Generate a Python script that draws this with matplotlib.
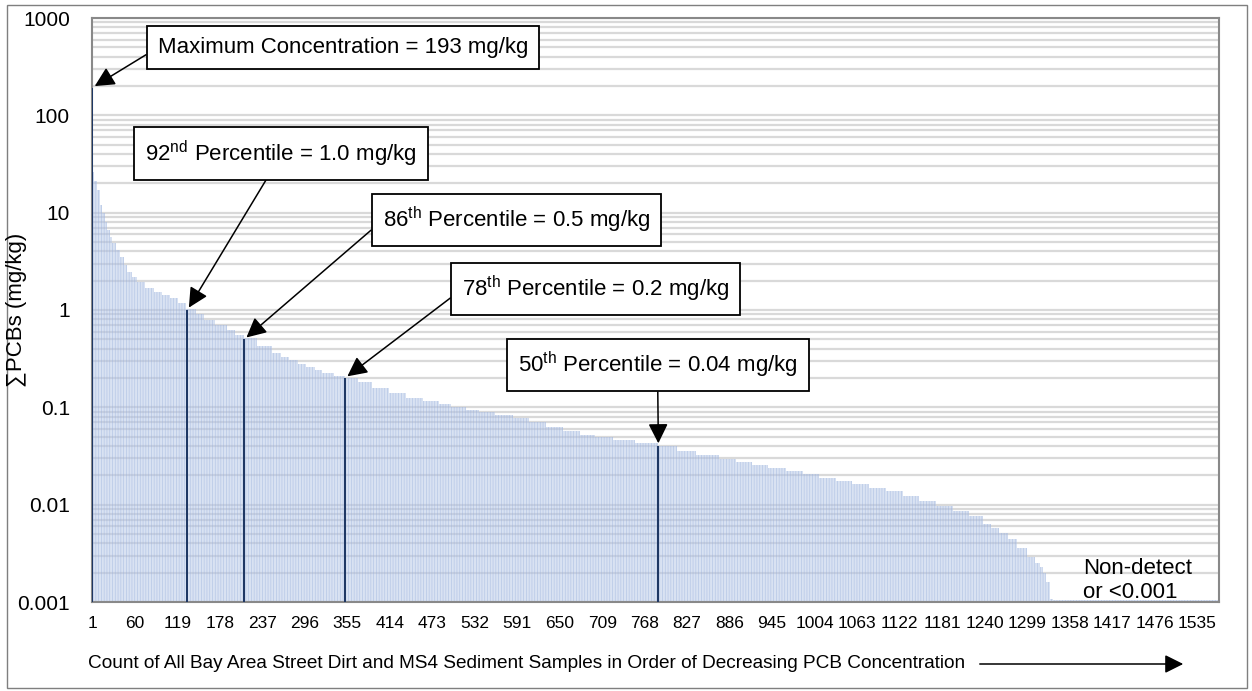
import matplotlib
matplotlib.use("Agg")
import matplotlib.pyplot as plt
from matplotlib.patches import Rectangle, FancyArrowPatch
from matplotlib.ticker import LogLocator, NullFormatter

plt.rcParams['font.family'] = ['Liberation Sans', 'DejaVu Sans']
plt.rcParams['mathtext.fontset'] = 'custom'
plt.rcParams['mathtext.rm'] = 'Liberation Sans'
plt.rcParams['hatch.linewidth'] = 0.5

# sorted concentrations: rank where a level starts, and its value (mg/kg)
rank_start = [1, 2, 4, 8, 12, 15, 19, 22, 26, 29, 35, 40, 45, 50, 56, 63, 75, 87, 98, 109,
              120, 132, 145, 157, 172, 188, 200, 212, 230, 251, 263, 275, 287, 298, 310, 321,
              337, 353, 370, 390, 413, 437, 460, 483, 500, 520, 539, 560, 585, 608, 632, 655,
              678, 700, 724, 755, 787, 813, 840, 872, 895, 918, 940, 965, 988, 1011, 1034, 1057,
              1080, 1104, 1127, 1150, 1173, 1196, 1219, 1238, 1250, 1261, 1273, 1285, 1299, 1310,
              1317, 1322, 1326, 1331, 1335]
conc = [193, 26, 21, 17, 12, 9.9, 8, 6.6, 5.6, 4.9, 4.1, 3.5, 2.9, 2.46, 2.2, 1.93, 1.7, 1.53,
        1.42, 1.32, 1.18, 1.02, 0.9, 0.79, 0.7, 0.62, 0.56, 0.51, 0.43, 0.36, 0.33, 0.305, 0.28,
        0.26, 0.24, 0.225, 0.21, 0.2, 0.18, 0.158, 0.14, 0.126, 0.115, 0.107, 0.1, 0.0946, 0.089,
        0.083, 0.077, 0.07, 0.063, 0.057, 0.052, 0.049, 0.0457, 0.043, 0.0405, 0.036, 0.032,
        0.0295, 0.0275, 0.0257, 0.024, 0.022, 0.0205, 0.019, 0.0176, 0.0162, 0.015, 0.0137,
        0.0122, 0.0108, 0.0096, 0.0086, 0.0076, 0.0064, 0.0058, 0.0051, 0.0044, 0.0036, 0.0029,
        0.0025, 0.0023, 0.002, 0.0016, 0.00107, 0.00105]
n_samples = 1565

# highlighted samples
hl_rank = [1, 133, 212, 352, 787]
hl_conc = [193, 1.0, 0.5, 0.2, 0.04]
hl_text = ["Maximum Concentration = 193 mg/kg",
           r"92$^{\mathrm{nd}}$ Percentile = 1.0 mg/kg",
           r"86$^{\mathrm{th}}$ Percentile = 0.5 mg/kg",
           r"78$^{\mathrm{th}}$ Percentile = 0.2 mg/kg",
           r"50$^{\mathrm{th}}$ Percentile = 0.04 mg/kg"]

x_ticks = list(range(1, 1536, 59))
y_ticks = [0.001, 0.01, 0.1, 1, 10, 100, 1000]
y_labels = ["0.001", "0.01", "0.1", "1", "10", "100", "1000"]

W, H = 1252, 691
fig = plt.figure(figsize=(W / 100, H / 100), dpi=100)
ax = fig.add_axes([92 / W, 89 / H, 1127 / W, 584 / H])

edges = [r - 0.5 for r in rank_start] + [n_samples + 0.5]
ax.stairs(conc, edges, baseline=1e-4, fill=True, facecolor='#b5c7e7',
          edgecolor='#94acdb', linewidth=0, hatch='||||||', alpha=0.5, zorder=2)
ax.bar(hl_rank, hl_conc, width=3, bottom=1e-4, color='#1f3864', zorder=3)

ax.set_yscale('log')
ax.set_ylim(0.001, 1000)
ax.set_xlim(0.5, n_samples + 0.5)
ax.set_yticks(y_ticks)
ax.set_yticklabels(y_labels, fontsize=15)
ax.yaxis.set_minor_locator(LogLocator(base=10, subs=range(2, 10), numticks=20))
ax.yaxis.set_minor_formatter(NullFormatter())
ax.set_xticks(x_ticks)
ax.set_xticklabels([str(t) for t in x_ticks], fontsize=12.5)
ax.tick_params(axis='both', which='both', length=0)
ax.tick_params(axis='y', pad=16)
ax.tick_params(axis='x', pad=10)
ax.grid(which='both', axis='y', color='#d9d9d9', lw=1.6, zorder=1)
ax.set_axisbelow(True)
for s in ax.spines.values():
    s.set_color('#898989')
    s.set_linewidth(1.5)

# annotation boxes: text centre, arrow start on box
box_xy = [(349, 497), (263, 40.5), (590, 8.41), (700, 1.64), (786, 0.272)]
arrow_from = [(0, 0.5), (0.47, 0), (0, 0.5), (0, 0.5), (0.5, 0)]
for i in range(len(hl_rank)):
    ax.annotate(hl_text[i], xy=(hl_rank[i], hl_conc[i]), xytext=box_xy[i],
                fontsize=16, ha='center', va='center', zorder=5,
                bbox=dict(boxstyle='square,pad=0.5', fc='white', ec='black', lw=1.3),
                arrowprops=dict(arrowstyle='-|>', mutation_scale=30, color='black', lw=1.1,
                                relpos=arrow_from[i], shrinkA=0, shrinkB=2))

ax.text(0.879, 0.007, "Non-detect\nor <0.001", transform=ax.transAxes, fontsize=16,
        ha='left', va='baseline', linespacing=1.2, zorder=5)

fig.text(17 / W, 1 - 310 / H, "\u2211PCBs (mg/kg)", rotation=90, ha='center', va='center',
         fontsize=16)
fig.text(88 / W, 1 - 664 / H, "Count of All Bay Area Street Dirt and MS4 Sediment Samples "
         "in Order of Decreasing PCB Concentration", ha='left', va='center', fontsize=13.7)
fig.add_artist(FancyArrowPatch((977 / W, 27 / H), (1186 / W, 27 / H), transform=fig.transFigure,
                               arrowstyle='-|>', mutation_scale=28, color='black', lw=1.1))
fig.add_artist(Rectangle((7 / W, 3 / H), 1240 / W, 683 / H, transform=fig.transFigure,
                         fill=False, ec='#7f7f7f', lw=1))

fig.savefig('out.png', dpi=100)
